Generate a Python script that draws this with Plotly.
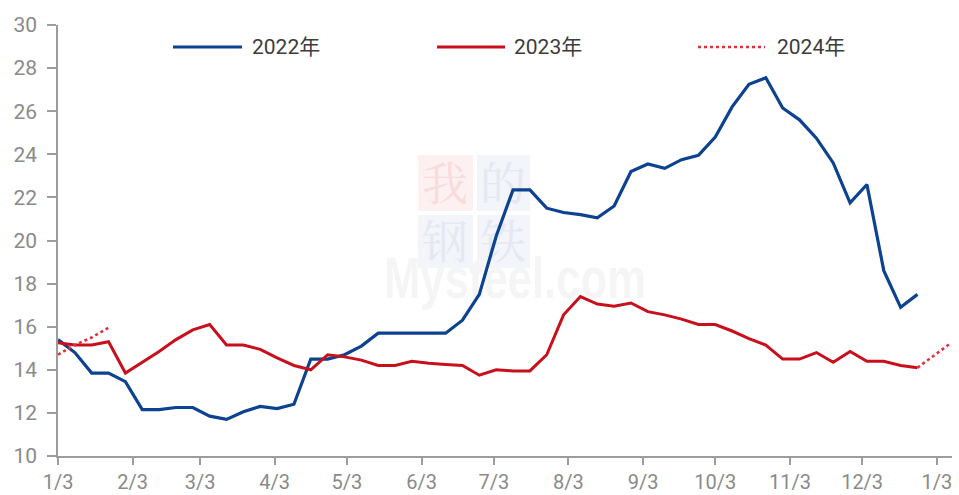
import base64
import datetime as dt

import plotly.graph_objects as go

# Weekly price series, one value per week from the first week of January
weeks_start = dt.date(2022, 1, 3)

values_2022 = [
    15.4, 14.8, 13.85, 13.85, 13.45, 12.15, 12.15, 12.25, 12.25, 11.85,
    11.7, 12.05, 12.3, 12.2, 12.4, 14.5, 14.5, 14.7, 15.1, 15.7,
    15.7, 15.7, 15.7, 15.7, 16.3, 17.5, 20.2, 22.35, 22.35, 21.5,
    21.3, 21.2, 21.05, 21.6, 23.2, 23.55, 23.35, 23.75, 23.95, 24.8,
    26.2, 27.25, 27.55, 26.15, 25.6, 24.75, 23.6, 21.75, 22.6, 18.6,
    16.9, 17.5,
]

values_2023 = [
    15.25, 15.15, 15.15, 15.3, 13.85, 14.35, 14.85, 15.4, 15.85, 16.1,
    15.15, 15.15, 14.95, 14.55, 14.2, 14.0, 14.7, 14.6, 14.45, 14.2,
    14.2, 14.4, 14.3, 14.25, 14.2, 13.75, 14.0, 13.95, 13.95, 14.7,
    16.55, 17.4, 17.05, 16.95, 17.1, 16.7, 16.55, 16.35, 16.1, 16.1,
    15.8, 15.45, 15.15, 14.5, 14.5, 14.8, 14.35, 14.85, 14.4, 14.4,
    14.2, 14.1,
]

# 2024: opening weeks, plus the year-end stretch continuing from 2023
weeks_2024_head = [0, 1, 2, 3]
values_2024_head = [14.7, 15.15, 15.5, 15.95]
weeks_2024_tail = [51, 53]
values_2024_tail = [14.1, 15.25]

series_names = ["2022年", "2023年", "2024年"]

tick_dates = [
    "2022-01-03", "2022-02-03", "2022-03-03", "2022-04-03", "2022-05-03",
    "2022-06-03", "2022-07-03", "2022-08-03", "2022-09-03", "2022-10-03",
    "2022-11-03", "2022-12-03", "2023-01-03",
]
tick_labels = ["1/3", "2/3", "3/3", "4/3", "5/3", "6/3", "7/3", "8/3",
               "9/3", "10/3", "11/3", "12/3", "1/3"]

y_ticks = [10, 12, 14, 16, 18, 20, 22, 24, 26, 28, 30]


def week_dates(indices):
    return [weeks_start + dt.timedelta(days=7 * i) for i in indices]


BLUE = "#0D4291"
RED = "#C8101C"
RED_DOT = "#E0303C"
AXIS = "#9c9c9c"
TICK_TEXT = "#8a8a8a"
FONT = "Roboto, 'Noto Sans CJK SC', sans-serif"

W, H = 959, 495
ML, MR, MT, MB = 58, 7, 25, 39
PW, PH = W - ML - MR, H - MT - MB


def px(x):
    return (x - ML) / PW


def py(y):
    return (H - MB - y) / PH


fig = go.Figure()

fig.add_trace(go.Scatter(
    x=week_dates(range(len(values_2022))), y=values_2022, mode="lines",
    name=series_names[0], line=dict(color=BLUE, width=3.2),
))
fig.add_trace(go.Scatter(
    x=week_dates(range(len(values_2023))), y=values_2023, mode="lines",
    name=series_names[1], line=dict(color=RED, width=3),
))
fig.add_trace(go.Scatter(
    x=week_dates(weeks_2024_head), y=values_2024_head, mode="lines",
    name=series_names[2], line=dict(color=RED_DOT, width=2.6, dash="dot"),
))
fig.add_trace(go.Scatter(
    x=week_dates(weeks_2024_tail), y=values_2024_tail, mode="lines",
    name=series_names[2], showlegend=False,
    line=dict(color=RED_DOT, width=2.6, dash="dot"),
))

# Faint publisher watermark behind the data
WM_W, WM_H = 280, 170
wm_svg = f"""<svg xmlns='http://www.w3.org/2000/svg' width='{WM_W}' height='{WM_H}' viewBox='0 0 {WM_W} {WM_H}'>
<rect x='38' y='15' width='55' height='56' fill='#fdf0f0'/>
<rect x='97' y='15' width='53' height='56' fill='#f3f5fa'/>
<rect x='38' y='75' width='55' height='53' fill='#f3f5fa'/>
<rect x='97' y='75' width='53' height='53' fill='#f3f5fa'/>
<text x='65' y='60' font-family='Noto Serif CJK SC, Noto Sans CJK SC' font-size='46' fill='#f8dcdc' text-anchor='middle'>我</text>
<text x='123' y='60' font-family='Noto Serif CJK SC, Noto Sans CJK SC' font-size='46' fill='#e4e8f2' text-anchor='middle'>的</text>
<text x='65' y='118' font-family='Noto Serif CJK SC, Noto Sans CJK SC' font-size='46' fill='#e4e8f2' text-anchor='middle'>钢</text>
<text x='123' y='118' font-family='Noto Serif CJK SC, Noto Sans CJK SC' font-size='46' fill='#e4e8f2' text-anchor='middle'>铁</text>
<text x='4' y='158' font-family='Arial, Liberation Sans' font-weight='bold' font-size='58' fill='#f5f5f5' textLength='262' lengthAdjust='spacingAndGlyphs'>Mysteel.com</text>
</svg>"""
wm_uri = "data:image/svg+xml;base64," + base64.b64encode(wm_svg.encode("utf-8")).decode()
fig.add_layout_image(dict(
    source=wm_uri, xref="paper", yref="paper",
    x=px(380), y=py(140), sizex=WM_W / PW, sizey=WM_H / PH,
    xanchor="left", yanchor="top", sizing="stretch", layer="below", opacity=1,
))

# Legend drawn as long line samples with labels across the top
legend_items = [
    (173, 242, 250, BLUE, "solid", 3.2, series_names[0]),
    (437, 505, 512, RED, "solid", 3, series_names[1]),
    (698, 765, 775, RED_DOT, "dot", 2.6, series_names[2]),
]
legend_y = 47
for x0, x1, xt, color, dash, width, label in legend_items:
    fig.add_shape(type="line", xref="paper", yref="paper",
                  x0=px(x0), x1=px(x1), y0=py(legend_y), y1=py(legend_y),
                  line=dict(color=color, width=width, dash=dash))
    fig.add_annotation(xref="paper", yref="paper", x=px(xt), y=py(legend_y),
                       text=label, showarrow=False, xanchor="left",
                       yanchor="middle",
                       font=dict(family=FONT, size=21, color="#3c3c3c"))

fig.update_layout(
    width=W, height=H,
    margin=dict(l=ML, r=MR, t=MT, b=MB),
    paper_bgcolor="white", plot_bgcolor="white",
    showlegend=False,
    font=dict(family=FONT),
    xaxis=dict(
        type="date",
        range=["2022-01-03", "2023-01-09 08:00"],
        tickvals=tick_dates, ticktext=tick_labels,
        showgrid=False, zeroline=False, automargin=False,
        showline=True, linecolor=AXIS, linewidth=1.6,
        ticks="outside", ticklen=7, tickwidth=1.6, tickcolor=AXIS,
        tickfont=dict(family=FONT, size=20, color=TICK_TEXT),
        ticklabelstandoff=0,
    ),
    yaxis=dict(
        range=[10, 30], tickvals=y_ticks,
        showgrid=False, zeroline=False, automargin=False,
        showline=True, linecolor=AXIS, linewidth=1.6,
        ticks="outside", ticklen=9, tickwidth=1.6, tickcolor=AXIS,
        tickfont=dict(family=FONT, size=21, color=TICK_TEXT),
        ticklabelstandoff=6,
    ),
)

fig.write_html("out.html")
